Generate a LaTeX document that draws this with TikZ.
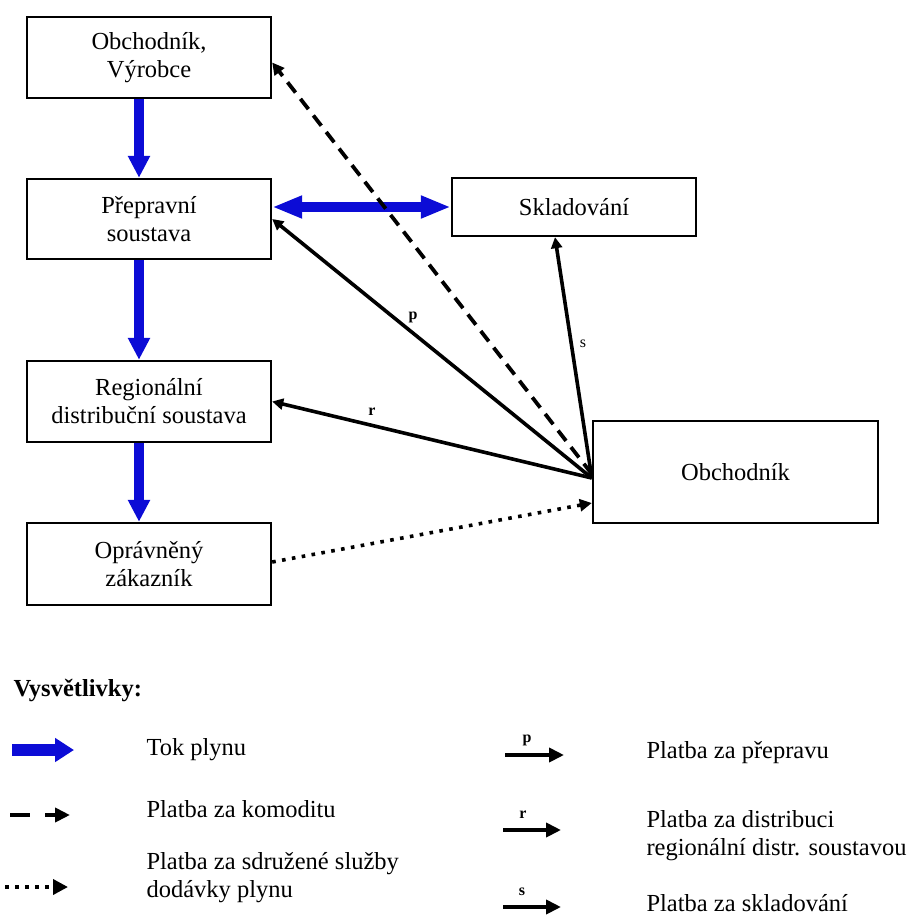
\documentclass[tikz,border=0pt]{standalone}
\usepackage{fontspec}
\setmainfont{Liberation Serif}
\usetikzlibrary{arrows.meta}
\definecolor{gasblue}{RGB}{12,12,214}
\tikzset{
  box/.style={draw, line width=2.4pt, minimum width=244pt, align=center, inner sep=0pt, font=\fontsize{24.5}{28}\selectfont},
  flow/.style={gasblue, line width=10pt, -{Triangle[length=22pt,width=21pt]}},
  pay/.style={line width=3.6pt, -{Triangle[length=11pt,width=11pt]}},
  legpay/.style={line width=4.5pt, -{Triangle[length=15pt,width=14pt]}},
  commodity/.style={line width=3.8pt, dash pattern=on 13pt off 8pt, -{Triangle[length=12pt,width=12pt]}},
  bundled/.style={line width=3.6pt, dash pattern=on 3.6pt off 6.4pt, -{Triangle[length=12pt,width=12pt]}},
  lbl/.style={font=\fontsize{16}{18}\selectfont\bfseries},
  legtext/.style={anchor=west, align=left, font=\fontsize{24.5}{28}\selectfont},
}
\begin{document}
\begin{tikzpicture}[x=1pt,y=-1pt]
    \useasboundingbox (0,0) rectangle (916,917);

    % boxes on the left
    \node[box, minimum height=81pt] (vyrobce) at (149,57.5) {Obchodník,\\Výrobce};
    \node[box, minimum height=80pt] (preprava) at (149,219) {Přepravní\\soustava};
    \node[box, minimum height=81pt] (rds) at (149,401.5) {Regionální\\distribuční soustava};
    \node[box, minimum height=82pt] (zakaznik) at (149,564) {Oprávněný\\zákazník};

    % boxes on the right
    \node[box, minimum height=58pt] (sklad) at (574,207) {Skladování};
    \node[box, minimum width=285pt, minimum height=102pt] (obchodnik) at (735.5,472) {Obchodník};
    \coordinate (hub) at ([yshift=-6pt]obchodnik.west);

    % gas flow
    \draw[flow] ([xshift=-10pt]vyrobce.south) -- ([xshift=-10pt]preprava.north);
    \draw[flow] ([xshift=-10pt]preprava.south) -- ([xshift=-10pt]rds.north);
    \draw[flow] ([xshift=-10pt]rds.south) -- ([xshift=-10pt]zakaznik.north);
    \draw[flow, {Triangle[length=30pt,width=21pt]}-{Triangle[length=30pt,width=21pt]}] (preprava.east |- sklad.west) -- (sklad.west);

    % payments
    \draw[commodity] ([yshift=4pt]hub) -- ([yshift=-5pt]vyrobce.east);
    \draw[pay] (hub) -- (preprava.east);
    \draw[pay] (hub) -- (rds.east);
    \draw[pay] (hub) -- ([xshift=-19pt]sklad.south);
    \draw[bundled] ([yshift=2pt]zakaznik.east) -- ([yshift=-31pt]obchodnik.west);

    \node[lbl] (lp) at (413,317) {p};
    \node[lbl] (lr) at (372,412) {r};
    \node[lbl, font=\fontsize{16}{18}\selectfont] (ls) at (583,344) {s};

    % legend
    \node[legtext, font=\fontsize{24.5}{28}\selectfont\bfseries] (vysv) at (10,690) {Vysvětlivky:};

    \draw[gasblue, line width=12pt, -{Triangle[length=19pt,width=23pt]}] (12,750) -- (74,750);
    \node[legtext] (t1) at (143,750) {Tok plynu};

    \draw[line width=4.5pt, dash pattern=on 20pt off 15pt, -{Triangle[length=15pt,width=14pt]}] (10,815) -- (70,815);
    \node[legtext] (t2) at (143,809) {Platba za komoditu};

    \draw[bundled, -{Triangle[length=15pt,width=15pt]}] (5,887) -- (68,887);
    \node[legtext] (t3) at (143,878) {Platba za sdružené služby\\dodávky plynu};

    \draw[legpay] (505,755) -- (564,755);
    \node[lbl] at (527,740) {p};
    \node[legtext] (t4) at (643,753) {Platba za přepravu};

    \draw[legpay] (503,830) -- (561,830);
    \node[lbl] at (523,815) {r};
    \node[legtext] (t5) at (643,836) {Platba za distribuci\\regionální distr. soustavou};

    \draw[legpay] (503,907) -- (561,907);
    \node[lbl] at (522,892) {s};
    \node[legtext] (t6) at (643,903) {Platba za skladování};
\end{tikzpicture}
\end{document}
